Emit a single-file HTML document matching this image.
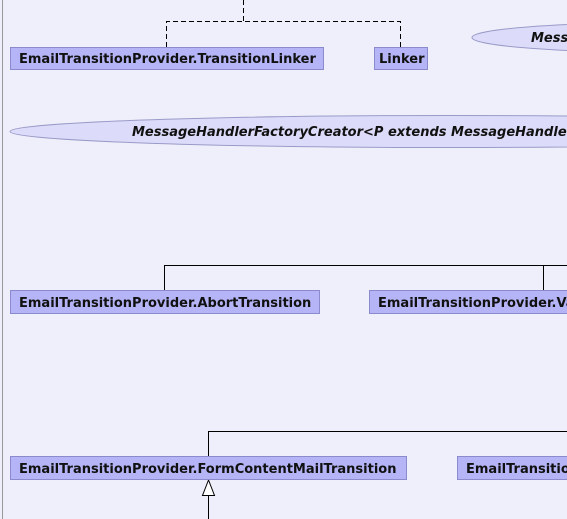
<!DOCTYPE html>
<html><head><style>
body{margin:0;width:567px;height:519px;overflow:hidden;background:#efeffb;}
svg{display:block}
text{font-family:"DejaVu Sans","Liberation Sans",sans-serif;font-size:13px;font-weight:bold;fill:#111;}
.i{font-size:13px;font-style:italic}
.b{fill:#b4b4f6;stroke:#8a8acc;stroke-width:1}
.e{fill:#dcdcfa;stroke:#9a9ac8;stroke-width:1}
</style></head><body>
<svg width="567" height="519" viewBox="0 0 567 519">
<rect x="0" y="0" width="567" height="519" fill="#efeffb"/>
<line x1="2.5" y1="0" x2="2.5" y2="519" stroke="#999" stroke-width="1"/>
<g stroke="#000" stroke-width="1" fill="none" stroke-dasharray="5,3">
<path d="M243.5 0V21.5M166.5 47V21.5H400.5V47"/>
</g>
<rect class="b" x="10.5" y="47.5" width="313" height="22"/>
<text x="19" y="63">EmailTransitionProvider.TransitionLinker</text>
<rect class="b" x="374.5" y="47.5" width="53" height="22"/>
<text x="379" y="63">Linker</text>
<ellipse class="e" cx="665" cy="37.5" rx="193" ry="15"/>
<text class="i" x="531" y="42">Message</text>
<ellipse class="e" cx="450" cy="131.5" rx="440" ry="16"/>
<text class="i" x="132" y="136">MessageHandlerFactoryCreator&lt;P extends MessageHandlerFactory&gt;</text>
<g stroke="#000" stroke-width="1" fill="none">
<path d="M164.5 290V265.5H567M543.5 265.5V290"/>
<path d="M208.5 456V431.5H567"/>
<path d="M208.5 495V519"/>
<path d="M208.5 480L202.5 495.5H214.5Z" fill="#fff"/>
</g>
<rect class="b" x="10.5" y="290.5" width="309" height="23"/>
<text x="19" y="307">EmailTransitionProvider.AbortTransition</text>
<rect class="b" x="369.5" y="290.5" width="320" height="23"/>
<text x="378" y="307">EmailTransitionProvider.ValidateTransition</text>
<rect class="b" x="10.5" y="456.5" width="396" height="23"/>
<text x="19" y="473">EmailTransitionProvider.FormContentMailTransition</text>
<rect class="b" x="457.5" y="456.5" width="320" height="23"/>
<text x="466" y="473">EmailTransitionProvider.Other</text>
</svg>
</body></html>
